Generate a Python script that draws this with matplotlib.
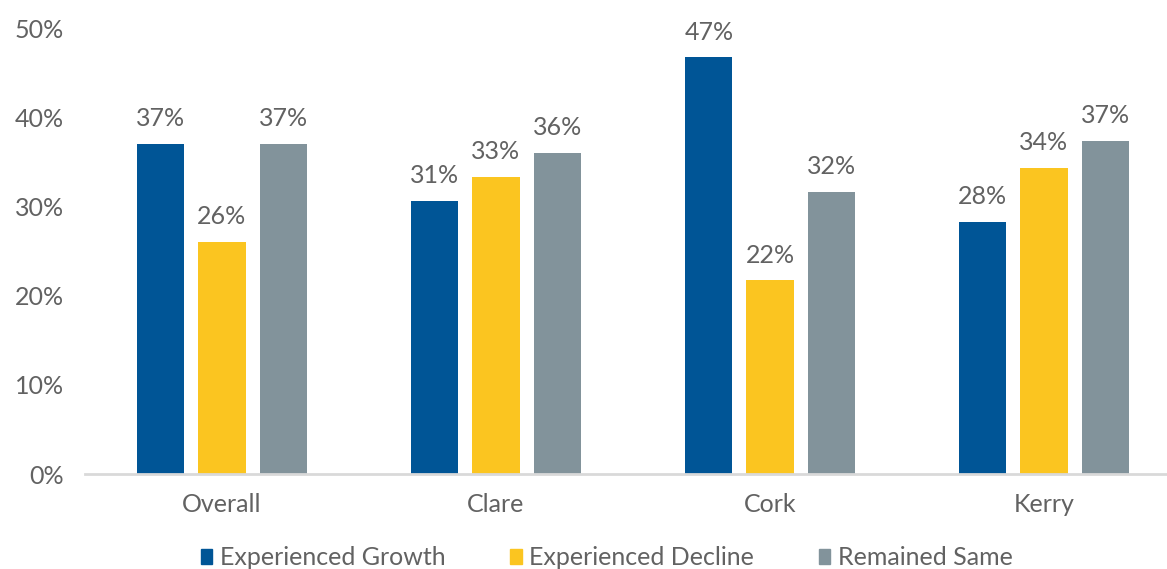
import numpy as np
import matplotlib.pyplot as plt
from matplotlib.patches import Rectangle

plt.rcParams['font.family'] = ['Lato', 'DejaVu Sans']

regions = ['Overall', 'Clare', 'Cork', 'Kerry']
growth = [37.0, 30.6, 46.7, 28.3]
decline = [26.0, 33.3, 21.7, 34.3]
same = [37.0, 36.0, 31.6, 37.3]
series_names = ['Experienced Growth', 'Experienced Decline', 'Remained Same']
colors = ['#005596', '#FBC520', '#82939B']
yticks = [0, 10, 20, 30, 40, 50]

text_col = '#626262'
fs = 18

fig = plt.figure(figsize=(11.67, 5.69), dpi=100)
ax = fig.add_axes([85 / 1167, 1 - 474 / 569, 1 - 85 / 1167, (474 - 28) / 569])

x = np.arange(len(regions))
step = 0.223
width = 0.172
for i, (vals, c) in enumerate(zip([growth, decline, same], colors)):
    pos = x + (i - 1) * step
    ax.bar(pos, vals, width=width, color=c, zorder=2)
    for p, v in zip(pos, vals):
        ax.annotate(f'{v:.0f}%', (p, v), xytext=(0, 10), textcoords='offset points',
                    ha='center', va='bottom', fontsize=fs, color=text_col)

ax.set_xlim(-0.5, -0.5 + (1167 - 85) / 274)
ax.set_ylim(0, 50)
ax.set_yticks(yticks)
ax.set_yticklabels([f'{t}%' for t in yticks])
ax.set_xticks(x)
ax.set_xticklabels(regions)
ax.tick_params(length=0, labelsize=fs, labelcolor=text_col)
ax.tick_params(axis='y', pad=15)
ax.tick_params(axis='x', pad=14)
for s in ['top', 'right', 'left']:
    ax.spines[s].set_visible(False)
ax.spines['bottom'].set_color('#d9d9d9')
ax.spines['bottom'].set_linewidth(2)

handles = [Rectangle((0, 0), 1, 1, color=c) for c in colors]
fig.legend(handles, series_names, loc='lower center', bbox_to_anchor=(0.52, -0.04),
           ncol=3, frameon=False, fontsize=fs, handlelength=0.45, handleheight=0.6,
           handletextpad=0.3, columnspacing=2.6, labelcolor=text_col)

fig.savefig('out.png', dpi=100)
